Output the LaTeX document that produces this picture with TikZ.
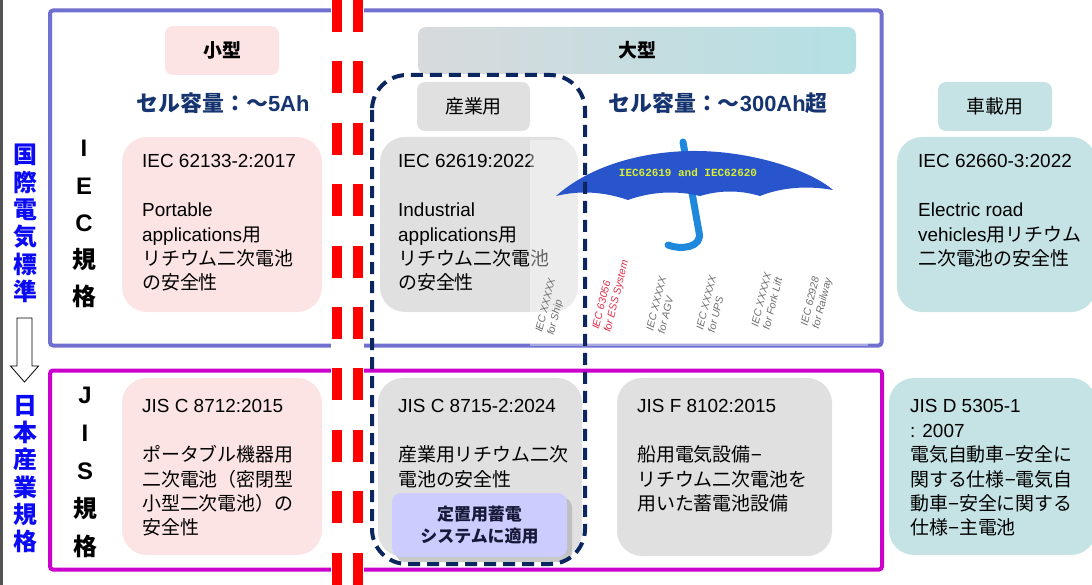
\documentclass[tikz,border=0pt]{standalone}
\usepackage{fontspec}
\setmainfont{Liberation Sans}
\newfontfamily\jpfam{Noto Sans CJK JP}
\newfontfamily\monofam{Liberation Mono}
% Japanese characters switch to the CJK family automatically
\XeTeXinterchartokenstate=1
\newXeTeXintercharclass\jpclass
\newcount\jpcode
\jpcode="3000 \loop\XeTeXcharclass\jpcode=\jpclass \advance\jpcode 1 \ifnum\jpcode<"A000 \repeat
\jpcode="FF00 \loop\XeTeXcharclass\jpcode=\jpclass \advance\jpcode 1 \ifnum\jpcode<"FFF0 \repeat
\XeTeXinterchartoks 0 \jpclass = {\jpfam}
\XeTeXinterchartoks 4095 \jpclass = {\jpfam}
\XeTeXinterchartoks \jpclass 0 = {\rmfamily}
\XeTeXinterchartoks \jpclass 4095 = {\rmfamily}

\definecolor{pinkbox}{RGB}{252,228,228}
\definecolor{greybox}{RGB}{224,224,224}
\definecolor{tealbox}{RGB}{197,227,229}
\definecolor{lavbox}{RGB}{204,204,255}
\definecolor{navytxt}{RGB}{22,52,112}
\definecolor{iecframe}{RGB}{112,112,208}
\definecolor{jisframe}{RGB}{204,0,204}
\definecolor{dashnavy}{RGB}{12,38,96}
\definecolor{canopy}{RGB}{40,84,204}
\definecolor{handle}{RGB}{30,136,220}
\definecolor{canopytxt}{RGB}{216,240,48}
\definecolor{labgrey}{RGB}{110,110,110}
\definecolor{labred}{RGB}{225,45,70}
\definecolor{hdrL}{RGB}{216,218,220}
\definecolor{hdrR}{RGB}{180,224,228}
\definecolor{sideblue}{RGB}{10,10,245}
\definecolor{subtxt}{RGB}{24,24,56}

\begin{document}
\begin{tikzpicture}[x=1bp,y=-1bp,
  bigbox/.style={rectangle, rounded corners=25bp, inner sep=0pt, outer sep=0pt},
  hdrbox/.style={rectangle, rounded corners=8bp, inner sep=0pt, outer sep=0pt,
    font=\fontsize{19}{22}\selectfont},
  body/.style={anchor=north west, align=left, inner sep=0pt,
    font=\fontsize{19}{24.5}\selectfont},
  capa/.style={font=\fontsize{22}{26}\selectfont\bfseries, text=navytxt, inner sep=0pt},
  sidelab/.style={align=center, inner sep=0pt, text=sideblue,
    font=\fontsize{24}{27.4}\selectfont\bfseries},
  rowlab/.style={align=center, inner sep=0pt, font=\bfseries},
  frame/.style={line width=4bp, rounded corners=3bp},
  redstripe/.style={draw=red, line width=10bp, dash pattern=on 32bp off 29.4bp},
  umblab/.style={align=left, inner sep=0pt, rotate=76,
    font=\fontsize{10.5}{12}\selectfont\itshape}
]
\useasboundingbox (0,0) rectangle (1092,585);

% outer left rule
\draw[line width=2.5bp, gray!65!black] (1.5,0) -- (1.5,585);

% IEC and JIS frames
\draw[frame, iecframe] (50,10.5) rectangle (881.5,345.5);
\draw[frame, jisframe] (50,370.5) rectangle (882,569.5);

% separator between small and large cells
\fill[white] (331,0) rectangle (364,585);
\draw[redstripe] (337,0) -- (337,585);
\draw[redstripe] (358,0) -- (358,585);

% left side labels
\node[sidelab] (intl) at (25,223.5) {国\\際\\電\\気\\標\\準};
\draw[line width=0.8bp, fill=white] (17,318) -- (32,318) -- (32,366) -- (38.5,366)
  -- (24.5,382) -- (10.5,366) -- (17,366) -- cycle;
\node[sidelab] (jpind) at (25,474) {日\\本\\産\\業\\規\\格};

\node[rowlab, font=\fontsize{24}{37.2}\selectfont\bfseries] (ieclab) at (84,224) {I\\E\\C\\規\\格};
\node[rowlab, font=\fontsize{24}{38.25}\selectfont\bfseries] (jislab) at (85,472.5) {J\\I\\S\\規\\格};

% column headers
\node[hdrbox, fill=pinkbox, minimum width=114bp, minimum height=49bp, font=\fontsize{19}{22}\selectfont\bfseries]
  (small) at (222,50.5) {小型};
\node[hdrbox, left color=hdrL, right color=hdrR, minimum width=438bp, minimum height=47bp,
  font=\fontsize{19}{22}\selectfont\bfseries] (large) at (637,50.5) {大型};
\node[hdrbox, fill=greybox, minimum width=113bp, minimum height=49bp] (ind) at (473.5,106.5) {産業用};
\node[hdrbox, fill=tealbox, minimum width=114bp, minimum height=49bp] (car) at (995,106.5) {車載用};

\node[capa] (capS) at (223,103) {セル容量：～5Ah};
\node[capa] (capL) at (718,103) {セル容量：～300Ah超};

% IEC row
\node[bigbox, fill=pinkbox, minimum width=200bp, minimum height=175bp] (iecA) at (222,224.5) {};
\node[bigbox, fill=greybox, minimum width=198bp, minimum height=175bp] (iecB) at (479,224.5) {};
\node[bigbox, fill=tealbox, minimum width=199bp, minimum height=175bp] (iecD) at (996.5,224.5) {};

\node[body] (iecAt) at (142,154.4) {IEC 62133-2:2017\\[24.5bp]Portable\\applications用\\リチウム二次電池\\の安全性};
\node[body] (iecBt) at (398,154.4) {IEC 62619:2022\\[24.5bp]Industrial\\applications用\\リチウム二次電池\\の安全性};
\node[body] (iecDt) at (918,154.4) {IEC 62660-3:2022\\[24.5bp]Electric road\\vehicles用リチウム\\二次電池の安全性};

% umbrella figure
\fill[white, fill opacity=0.4] (530,140) rectangle (868,346);
\draw[handle, line width=7bp, line cap=round] (683,142) -- (699,232)
  .. controls (703,248) and (680,250) .. (668,245);
\fill[canopy] (556,196) .. controls (590,166) and (640,152) .. (690,151)
  .. controls (750,150) and (810,170) .. (833,190)
  .. controls (805,185) and (780,188) .. (760,196)
  .. controls (740,190) and (720,190) .. (700,196)
  .. controls (675,190) and (650,192) .. (628,200)
  .. controls (605,192) and (580,190) .. (556,196) -- cycle;
\node[inner sep=0pt, text=canopytxt, font=\fontsize{11}{12}\monofam\bfseries] (umbt) at (688,173) {IEC62619 and IEC62620};

\node[umblab, text=labgrey] (uShip) at (552,307) {IEC XXXXX\\for Ship};
\node[umblab, text=labred] (uESS) at (611,295) {IEC 63056\\for ESS System};
\node[umblab, text=labgrey] (uAGV) at (662,305) {IEC XXXXX\\for AGV};
\node[umblab, text=labgrey] (uUPS) at (712,304) {IEC XXXXX\\for UPS};
\node[umblab, text=labgrey] (uFork) at (767,301) {IEC XXXXX\\for Fork Lift};
\node[umblab, text=labgrey] (uRail) at (817,302) {IEC 62928\\for Railway};

% JIS row
\node[bigbox, fill=pinkbox, minimum width=200bp, minimum height=177bp] (jisA) at (222,466.5) {};
\node[bigbox, fill=greybox, minimum width=204bp, minimum height=179bp] (jisB) at (480,467.5) {};
\node[bigbox, fill=greybox, minimum width=215bp, minimum height=178bp] (jisC) at (724.5,467) {};
\node[bigbox, fill=tealbox, minimum width=207bp, minimum height=177bp] (jisD) at (992.5,466.5) {};

\node[body] (jisAt) at (142,399.4) {JIS C 8712:2015\\[24.5bp]ポータブル機器用\\二次電池（密閉型\\小型二次電池）の\\安全性};
\node[body] (jisBt) at (398,399.4) {JIS C 8715-2:2024\\[24.5bp]産業用リチウム二次\\電池の安全性};
\node[body] (jisCt) at (637,399.4) {JIS F 8102:2015\\[24.5bp]船用電気設備−\\リチウム二次電池を\\用いた蓄電池設備};
\node[body] (jisDt) at (910,399.4) {JIS D 5305-1\\: 2007\\電気自動車−安全に\\関する仕様−電気自\\動車−安全に関する\\仕様−主電池};

% stationary storage note
\fill[gray!60, opacity=0.7, rounded corners=9bp] (396,498) rectangle (572,562);
\node[rectangle, rounded corners=9bp, fill=lavbox, minimum width=175bp, minimum height=64bp,
  inner sep=0pt, align=center, text=subtxt, font=\fontsize{17}{22}\selectfont\bfseries]
  (ess) at (479.5,525) {定置用蓄電\\システムに適用};

% industrial-use bracket
\draw[dashnavy, line width=4bp, dash pattern=on 12bp off 7bp, rounded corners=35bp]
  (372,75) rectangle (585,564);
\end{tikzpicture}
\end{document}
